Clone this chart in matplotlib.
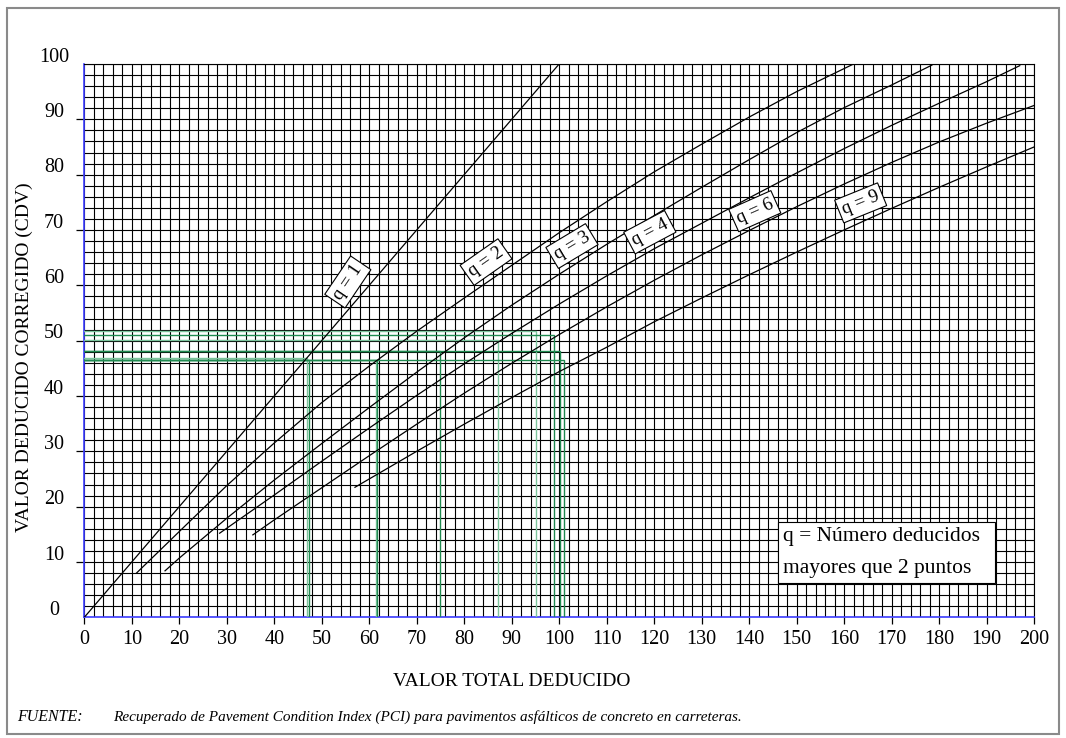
import matplotlib
matplotlib.use("Agg")
import matplotlib.pyplot as plt
from matplotlib.patches import Rectangle
from matplotlib.transforms import blended_transform_factory
import numpy as np

# ---------------- data ----------------
x_ticks = list(range(0, 201, 10))
y_ticks = list(range(0, 101, 10))

tdv_q1 = [0, 100]
cdv_q1 = [0, 100]
tdv_q2 = [11, 20, 30, 40, 50, 60, 70, 80, 90, 100, 110, 120, 130, 140, 150, 162]
cdv_q2 = [8.0, 15.5, 23.8, 31.5, 38.8, 45.4, 51.7, 57.7, 63.6, 69.5, 75.1, 80.5, 85.5, 90.4, 95.0, 100]
tdv_q3 = [17, 20, 30, 40, 50, 60, 70, 80, 90, 100, 110, 120, 130, 140, 150, 160, 170, 178.5]
cdv_q3 = [8.4, 10.7, 17.9, 24.8, 31.4, 37.9, 44.3, 50.5, 56.4, 62.0, 67.4, 72.6, 77.7, 82.7, 87.6, 92.1, 96.2, 99.8]
tdv_q4 = [28.5, 30, 40, 50, 60, 70, 80, 90, 100, 110, 120, 130, 140, 150, 160, 170, 180, 190, 197]
cdv_q4 = [15.2, 16.1, 22.1, 28.2, 34.2, 40.1, 45.8, 51.3, 56.6, 61.7, 66.6, 71.2, 75.8, 80.3, 84.7, 88.9, 92.9, 96.8, 99.7]
tdv_q6 = [35.5, 40, 50, 60, 70, 80, 90, 100, 110, 120, 130, 140, 150, 160, 170, 180, 190, 200]
cdv_q6 = [14.9, 17.6, 23.4, 29.2, 34.9, 40.5, 45.9, 51.1, 56.1, 60.9, 65.5, 69.9, 74.2, 78.3, 82.2, 85.9, 89.3, 92.5]
tdv_q9 = [57, 60, 70, 80, 90, 100, 110, 120, 130, 140, 150, 160, 170, 180, 190, 200]
cdv_q9 = [23.5, 25.0, 30.0, 34.9, 39.7, 44.4, 48.8, 53.4, 57.7, 61.9, 66.0, 70.0, 73.9, 77.7, 81.4, 85.0]

curves_tdv = [tdv_q1, tdv_q2, tdv_q3, tdv_q4, tdv_q6, tdv_q9]
curves_cdv = [cdv_q1, cdv_q2, cdv_q3, cdv_q4, cdv_q6, cdv_q9]

label_text = ['q = 1', 'q = 2', 'q = 3', 'q = 4', 'q = 6', 'q = 9']
label_x = [55.5, 84.6, 102.7, 119.1, 141.2, 163.5]
label_y = [60.6, 64.2, 67.1, 69.6, 73.4, 74.9]
label_angle = [56, 35, 31, 28, 24, 22]

green_tdv = [47.0, 47.4, 61.4, 61.7, 74.9, 87.1, 95.2, 98.9, 100.1, 101.1]
green_cdv = [46.9, 46.5, 46.5, 46.5, 48.2, 50.2, 51.7, 51.0, 48.2, 46.5]
green_shade = ['light', 'dark', 'light', 'dark', 'dark', 'light', 'light', 'dark', 'dark', 'dark']

x_label = 'VALOR TOTAL DEDUCIDO'
y_label = 'VALOR DEDUCIDO CORREGIDO (CDV)'
note_lines = ['q = Número deducidos', 'mayores que 2 puntos']
source_head = 'FUENTE:'
source_text = 'Recuperado de Pavement Condition Index (PCI) para pavimentos asfálticos de concreto en carreteras.'

# ---------------- figure ----------------
plt.rcParams['font.family'] = ['Liberation Serif', 'DejaVu Serif']
W, H = 1066, 738
fig = plt.figure(figsize=(W / 100, H / 100), dpi=100)
fig.patch.set_facecolor('white')

ax_l, ax_r, ax_t, ax_b = 84.3, 1034.0, 64.0, 617.3
ax = fig.add_axes([ax_l / W, 1 - ax_b / H, (ax_r - ax_l) / W, (ax_b - ax_t) / H])
ax.set_xlim(0, 200)
ax.set_ylim(0, 100)

# grid
ax.set_xticks(x_ticks)
ax.set_xticks(np.arange(0, 201, 2), minor=True)
ax.set_yticks([v for v in y_ticks if 0 < v < 100])
ax.set_yticks(np.arange(0, 101, 2), minor=True)
ax.grid(which='both', color='black', linewidth=0.8, zorder=0)
ax.set_axisbelow(True)

ax.tick_params(axis='x', which='major', direction='out', length=5, width=0.9,
               labelsize=14.5, pad=4, colors='black')
ax.tick_params(axis='y', which='major', direction='out', length=6, width=0.9,
               labelleft=False)
ax.tick_params(which='minor', length=0)

for s in ['top', 'right']:
    ax.spines[s].set_color('black')
    ax.spines[s].set_linewidth(0.8)
for s in ['left', 'bottom']:
    ax.spines[s].set_color('#3c3cff')
    ax.spines[s].set_linewidth(1.2)

# y tick labels (placed above each line, as in the original)
tr = blended_transform_factory(ax.transAxes, ax.transData)
for v in y_ticks:
    ax.text((54 - ax_l) / (ax_r - ax_l), v + 0.4, str(v), transform=tr,
            ha='center', va='baseline', fontsize=14.5)

# green reading lines
for t, c, sh in zip(green_tdv, green_cdv, green_shade):
    col = '#1f8a50' if sh == 'dark' else '#7cc49c'
    ax.plot([0, t, t], [c, c, 0], color=col, linewidth=1.0, zorder=3,
            solid_joinstyle='miter')

# curves
for xs, ys in zip(curves_tdv, curves_cdv):
    ax.plot(xs, ys, color='black', linewidth=0.9, zorder=4)

# curve labels
for txt, lx, ly, ang in zip(label_text, label_x, label_y, label_angle):
    ax.text(lx, ly, txt, rotation=ang, rotation_mode='anchor', ha='center',
            va='center', fontsize=13.5, zorder=6,
            bbox=dict(boxstyle='square,pad=0.2', fc='white', ec='black', lw=0.8))

# note box
bx0 = (778 - ax_l) / 4.7485
bx1 = (995 - ax_l) / 4.7485
by0 = (ax_b - 583) / 5.533
by1 = (ax_b - 522) / 5.533
ax.add_patch(Rectangle((bx0, by0), bx1 - bx0, by1 - by0, facecolor='white',
                       edgecolor='black', linewidth=0.8, zorder=6))
ax.text(bx0 + 1.0, (ax_b - 541) / 5.533, note_lines[0], fontsize=15.5,
        ha='left', va='baseline', zorder=7)
ax.text(bx0 + 1.0, (ax_b - 573) / 5.533, note_lines[1], fontsize=15.5,
        ha='left', va='baseline', zorder=7)

# axis labels
fig.text(512 / W, 1 - 681 / H, x_label, ha='center', va='center', fontsize=14)
fig.text(24 / W, 1 - 357 / H, y_label, ha='center', va='center', rotation=90,
         fontsize=14)

# footer
fig.text(17 / W, 1 - 717 / H, source_head, ha='left', va='center',
         fontsize=11.5, style='italic')
fig.text(113 / W, 1 - 717 / H, source_text, ha='left', va='center',
         fontsize=11, style='italic')

# outer frame
fig.add_artist(Rectangle((7 / W, 1 - 734 / H), (1059 - 7) / W, (734 - 8) / H,
                         transform=fig.transFigure, fill=False,
                         edgecolor='#8a8a8a', linewidth=1.5))

fig.savefig('out.png', dpi=100, facecolor='white')
